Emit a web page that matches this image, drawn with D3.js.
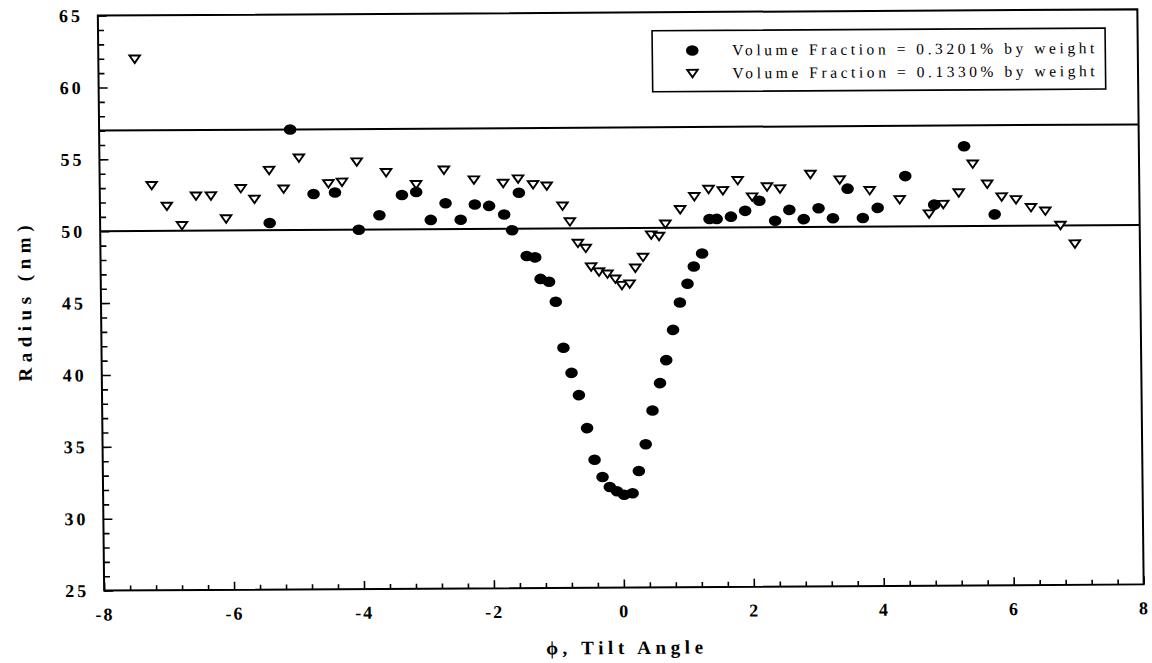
<!DOCTYPE html>
<html>
<head>
<meta charset="utf-8">
<script src="https://cdn.jsdelivr.net/npm/d3@7"></script>
<style>
  html, body { margin: 0; padding: 0; background: #fff; }
  svg { display: block; }
  .tick-label { font-family: "Liberation Serif", "Times New Roman", serif; font-weight: bold; font-size: 18px; fill: #000; }
  .axis-title { font-family: "Liberation Serif", "Times New Roman", serif; font-weight: bold; font-size: 19px; fill: #000; }
  .legend-text { font-family: "Liberation Serif", "Times New Roman", serif; font-size: 15.5px; fill: #000; }
</style>
</head>
<body>
<svg id="chart" width="1152" height="663"></svg>
<script>
// Tilt angle (phi) and measured radius (nm), volume fraction 0.3201% by weight
const phiHigh = [-5.39, -5.06, -4.71, -4.38, -4.02, -3.70, -3.35, -3.13, -2.91, -2.68,
  -2.45, -2.23, -2.01, -1.78, -1.66, -1.55, -1.44, -1.31, -1.23, -1.10,
  -1.00, -0.89, -0.77, -0.66, -0.54, -0.43, -0.31, -0.20, -0.09, 0.02,
  0.15, 0.25, 0.36, 0.47, 0.59, 0.69, 0.80, 0.91, 1.03, 1.13,
  1.26, 1.38, 1.49, 1.71, 1.93, 2.15, 2.39, 2.61, 2.83, 3.06,
  3.28, 3.51, 3.74, 3.97, 4.40, 4.84, 5.31, 5.77];
const radiusHigh = [50.5, 57.0, 52.5, 52.6, 50.0, 51.0, 52.4, 52.6, 50.65, 51.8,
  50.65, 51.7, 51.6, 51.0, 49.9, 52.5, 48.1, 48.0, 46.5, 46.3,
  44.9, 41.7, 39.95, 38.4, 36.1, 33.9, 32.7, 32.0, 31.7, 31.45,
  31.55, 33.1, 34.95, 37.3, 39.2, 40.8, 42.9, 44.8, 46.1, 47.3,
  48.2, 50.6, 50.6, 50.75, 51.15, 51.85, 50.45, 51.2, 50.55, 51.3,
  50.6, 52.65, 50.6, 51.3, 53.5, 51.5, 55.55, 50.8];

// Tilt angle (phi) and measured radius (nm), volume fraction 0.1330% by weight
const phiLow = [-7.44, -7.20, -6.97, -6.74, -6.52, -6.29, -6.06, -5.83, -5.62, -5.39,
  -5.17, -4.93, -4.48, -4.27, -4.04, -3.59, -3.13, -2.70, -2.24, -1.79,
  -1.56, -1.33, -1.12, -0.88, -0.77, -0.65, -0.53, -0.45, -0.33, -0.20,
  -0.08, 0.02, 0.14, 0.23, 0.35, 0.48, 0.60, 0.70, 0.93, 1.15,
  1.37, 1.59, 1.82, 2.04, 2.27, 2.47, 2.94, 3.39, 3.85, 4.31,
  4.76, 4.98, 5.22, 5.44, 5.66, 5.88, 6.10, 6.33, 6.55, 6.78, 7.00];
const radiusLow = [61.95, 53.15, 51.7, 50.35, 52.4, 52.4, 50.8, 52.9, 52.15, 54.15,
  52.85, 55.0, 53.2, 53.3, 54.7, 53.95, 53.1, 54.1, 53.4, 53.15,
  53.45, 53.05, 52.95, 51.55, 50.45, 48.95, 48.6, 47.3, 46.95, 46.8,
  46.45, 46.0, 46.1, 47.2, 47.95, 49.5, 49.4, 50.25, 51.25, 52.15,
  52.65, 52.55, 53.25, 52.1, 52.8, 52.65, 53.65, 53.25, 52.5, 51.85,
  50.85, 51.5, 52.3, 54.3, 52.9, 52.0, 51.8, 51.25, 51.0, 50.0, 48.7];

// Horizontal reference levels (nm)
const referenceRadii = [57, 50];

// Axis ticks
const xTickLabels = [-8, -6, -4, -2, 0, 2, 4, 6, 8];
const xMinorTicks = d3.range(41).map(i => +(-8 + i * 0.4).toFixed(1));
const yTickLabels = [25, 30, 35, 40, 45, 50, 55, 60, 65];
const yMinorTicks = d3.range(25, 66);

const legendLabels = [
  "Volume Fraction = 0.3201% by weight",
  "Volume Fraction = 0.1330% by weight"
];

const svg = d3.select("#chart");
const plot = { left: 101, right: 1140.5, top: 12.5, bottom: 587.5 };

// the printed figure sits slightly askew on the page
const root = svg.append("g").attr("transform", "matrix(1,-0.006,0.011,1,-3.3,3.72)");

const x = d3.scaleLinear().domain([-8, 8]).range([plot.left, plot.right]);
const y = d3.scaleLinear().domain([25, 65]).range([plot.bottom, plot.top]);

// x axis: ticks point into the plot, longer ones at labelled values
const xAxis = d3.axisBottom(x)
  .tickValues(xMinorTicks)
  .tickSizeInner(-5)
  .tickSizeOuter(0)
  .tickPadding(17)
  .tickFormat(d => xTickLabels.includes(d) ? String(d) : "");
const gx = root.append("g").attr("transform", `translate(0,${plot.bottom})`).call(xAxis);
gx.select(".domain").remove();
gx.selectAll(".tick line")
  .attr("stroke", "#000").attr("stroke-width", 1.6)
  .attr("y2", d => xTickLabels.includes(d) ? -8 : -5);
gx.selectAll(".tick text").attr("class", "tick-label").attr("font-family", null).attr("font-size", null)
  .attr("dy", "0.71em").style("letter-spacing", "2px");

// y axis
const yAxis = d3.axisLeft(y)
  .tickValues(yMinorTicks)
  .tickSizeInner(-5)
  .tickSizeOuter(0)
  .tickPadding(15)
  .tickFormat(d => yTickLabels.includes(d) ? String(d) : "");
const gy = root.append("g").attr("transform", `translate(${plot.left},0)`).call(yAxis);
gy.select(".domain").remove();
gy.selectAll(".tick line")
  .attr("stroke", "#000").attr("stroke-width", 1.6)
  .attr("x2", d => yTickLabels.includes(d) ? 9 : 6);
gy.selectAll(".tick text").attr("class", "tick-label").attr("font-family", null).attr("font-size", null)
  .style("letter-spacing", "3px");

// plot frame
root.append("rect")
  .attr("x", x(-8)).attr("y", y(65))
  .attr("width", x(8) - x(-8)).attr("height", y(25) - y(65))
  .attr("fill", "none").attr("stroke", "#000").attr("stroke-width", 2);

// reference levels
root.append("g").selectAll("line")
  .data(referenceRadii)
  .join("line")
  .attr("x1", x(-8)).attr("x2", x(8))
  .attr("y1", d => y(d)).attr("y2", d => y(d))
  .attr("stroke", "#000").attr("stroke-width", 2);

// marker shapes
const triW = 10.5, triH = 7.5;
const trianglePath = `M${-triW / 2},${-triH / 2}L${triW / 2},${-triH / 2}L0,${triH / 2}Z`;

const highData = phiHigh.map((p, i) => ({ phi: p, r: radiusHigh[i] }));
const lowData = phiLow.map((p, i) => ({ phi: p, r: radiusLow[i] }));

root.append("g").selectAll("path")
  .data(lowData)
  .join("path")
  .attr("d", trianglePath)
  .attr("transform", d => `translate(${x(d.phi)},${y(d.r)})`)
  .attr("fill", "#fff").attr("stroke", "#000").attr("stroke-width", 1.9)
  .attr("stroke-linejoin", "miter");

root.append("g").selectAll("ellipse")
  .data(highData)
  .join("ellipse")
  .attr("cx", d => x(d.phi)).attr("cy", d => y(d.r))
  .attr("rx", 6.3).attr("ry", 5.3)
  .attr("fill", "#000");

// axis titles
root.append("text").attr("class", "axis-title")
  .attr("x", x(0)).attr("y", 654)
  .attr("text-anchor", "middle")
  .attr("textLength", 157).attr("lengthAdjust", "spacing")
  .text("ϕ, Tilt Angle");

root.append("text").attr("class", "axis-title")
  .attr("transform", "translate(31,300) rotate(-90)")
  .attr("text-anchor", "middle")
  .attr("textLength", 156).attr("lengthAdjust", "spacing")
  .text("Radius (nm)");

// legend
const legend = root.append("g");
legend.append("rect")
  .attr("x", 655).attr("y", 31).attr("width", 453).attr("height", 61)
  .attr("fill", "#fff").attr("stroke", "#000").attr("stroke-width", 1.6);
const rows = legend.selectAll("g.row").data(legendLabels).join("g")
  .attr("class", "row")
  .attr("transform", (d, i) => `translate(0,${51 + i * 23})`);
rows.filter((d, i) => i === 0).append("ellipse")
  .attr("cx", 695).attr("cy", 0).attr("rx", 6.3).attr("ry", 5.3).attr("fill", "#000");
rows.filter((d, i) => i === 1).append("path")
  .attr("d", trianglePath).attr("transform", "translate(695,0)")
  .attr("fill", "#fff").attr("stroke", "#000").attr("stroke-width", 1.9);
rows.append("text").attr("class", "legend-text")
  .attr("x", 735).attr("y", 5)
  .attr("textLength", 362).attr("lengthAdjust", "spacing")
  .text(d => d);
</script>
</body>
</html>
